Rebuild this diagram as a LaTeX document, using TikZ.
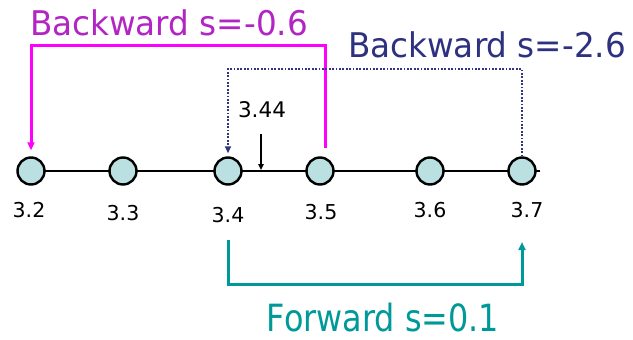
\documentclass[tikz,border=0pt]{standalone}
\usepackage{fontspec}
\setmainfont{DejaVu Sans}
\newfontfamily\fwdfont{DejaVu Sans}[FakeStretch=0.85]
\newfontfamily\bwdfont{DejaVu Sans}[FakeStretch=0.96]
\usetikzlibrary{arrows.meta}
\definecolor{magtext}{RGB}{178,36,196}
\definecolor{magline}{RGB}{255,0,255}
\definecolor{navyc}{RGB}{46,49,127}
\definecolor{navyl}{RGB}{50,52,130}
\definecolor{tealc}{RGB}{0,153,153}
\definecolor{fillc}{RGB}{187,224,226}
\tikzset{
  pt/.style={circle,draw=black,line width=2.4pt,fill=fillc,minimum size=27pt,inner sep=0pt},
  numlbl/.style={anchor=base,inner sep=0pt,font=\fontsize{20.5}{24}\selectfont},
  biglbl/.style={anchor=base,inner sep=0pt,text depth=0pt,font=\bwdfont\fontsize{34}{38}\selectfont},
  fwdlbl/.style={anchor=base,inner sep=0pt,text depth=0pt,font=\fwdfont\fontsize{37.5}{42}\selectfont},
  tipA/.style={-{Triangle[length=8pt,width=7pt]}},
  magconn/.style={magline,line width=3pt,tipA},
  navyconn/.style={navyl,line width=2pt,dash pattern=on 1.8pt off 1.6pt,-{Triangle[length=7pt,width=6pt]}},
  tealconn/.style={tealc,line width=3pt,tipA},
}
\begin{document}
\begin{tikzpicture}[x=1pt,y=-1pt]
\useasboundingbox (0,0) rectangle (633,340);
% axis line
\coordinate (lend) at (540,171);
\coordinate (lstart) at (31,171);
\draw[line width=2.4pt] (lstart) -- (lend);
% points
\node[pt] (c32) at (31,171) {};
\node[pt] (c33) at (123,171) {};
\node[pt] (c34) at (228,171) {};
\node[pt] (c35) at (320,171) {};
\node[pt] (c36) at (430,171) {};
\node[pt] (c37) at (522,171) {};
% labels
\node[numlbl] (l32) at (29,217) {3.2};
\node[numlbl] (l33) at (123,220) {3.3};
\node[numlbl] (l34) at (228,222) {3.4};
\node[numlbl] (l35) at (321,219) {3.5};
\node[numlbl] (l36) at (430,217) {3.6};
\node[numlbl] (l37) at (527,217) {3.7};
% 3.44 marker
\node[numlbl,font=\fontsize{21.5}{24}\selectfont] (l344) at (262,117) {3.44};
\coordinate (a344s) at (261,134);
\coordinate (a344e) at (261,170);
\draw[line width=1.8pt,-{Triangle[length=6pt,width=5.5pt]}] (a344s) -- (a344e);
% magenta backward
\coordinate (m0) at (325,148);
\coordinate (mcorner) at (325,45);
\draw[magconn,shorten >=6pt] (m0) -- (mcorner) -| (c32.north);
\node[biglbl,text=magtext] (tm) at (169,35) {Backward s=-0.6};
% navy backward
\coordinate (ncorner) at (522,69);
\draw[navyconn,shorten >=3pt] (c37.north) -- (ncorner) -| (c34.north);
\node[biglbl,text=navyc] (tn) at (487,57) {Backward s=-2.6};
% teal forward
\coordinate (t0) at (228,240);
\coordinate (tcorner) at (228,284);
\coordinate (t1) at (522,242);
\draw[tealconn] (t0) -- (tcorner) -| (t1);
\node[fwdlbl,text=tealc] (tf) at (383,331) {Forward s=0.1};
\end{tikzpicture}
\end{document}
